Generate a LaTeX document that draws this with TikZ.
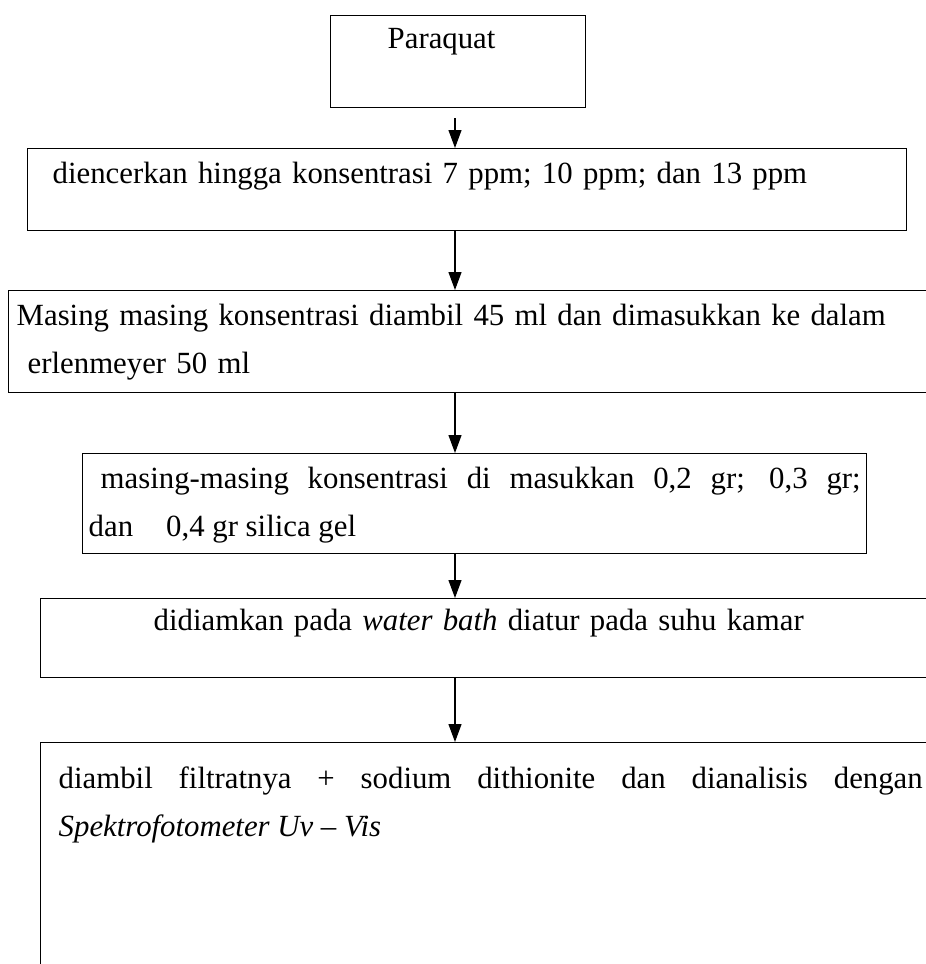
\documentclass[tikz,border=0pt]{standalone}
\usepackage{fontspec}
\setmainfont{Liberation Serif}
\usepackage{tikz}
\usetikzlibrary{arrows.meta,positioning,calc}
\tolerance=10000
\hbadness=10000

\begin{document}
\begin{tikzpicture}[
    x=1pt, y=1pt,
    stepbox/.style={rectangle, draw=black, line width=1.4pt, anchor=north west, inner ysep=0pt, align=left, font=\fontsize{30.8pt}{48pt}\selectfont},
    arrow/.style={-{Triangle[length=18pt, width=13pt]}, line width=1.2pt}
]
    \path[use as bounding box, clip] (0,0) rectangle (926,-964);
    \coordinate (col) at (455,0);

    \node[stepbox, text width=141pt, inner xsep=57pt, text height=33pt, text depth=59pt] (para) at (330,-15) {Paraquat};
    \node[stepbox, text width=829pt, inner xsep=25pt, text height=35pt, text depth=47pt] (encer) at (27,-148) {diencerkan hingga konsentrasi 7 ppm; 10 ppm; dan 13 ppm};
    \node[stepbox, text width=924pt, inner xsep=8pt, text height=35pt, text depth=67pt] (ambil) at (8,-290) {\makebox[874pt][s]{Masing masing konsentrasi diambil 45 ml dan dimasukkan ke dalam}\\ \hspace*{11pt}erlenmeyer 50 ml};
    \node[stepbox, align=justify, text width=772pt, inner xsep=6pt, text height=35pt, text depth=65pt] (silika) at (82,-453) {\hspace*{12pt}masing-masing konsentrasi di masukkan 0,2 gr; 0,3 gr;\linebreak dan\hspace{33pt}0,4 gr silica gel};
    \node[stepbox, text width=700pt, inner xsep=113pt, text height=32pt, text depth=47pt] (diam) at (40,-598) {didiamkan pada \textit{water bath} diatur pada suhu kamar};
    \node[stepbox, align=justify, text width=864pt, inner xsep=18pt, text height=46pt, text depth=250pt] (analisis) at (40,-742) {diambil filtratnya + sodium dithionite dan dianalisis dengan\linebreak \textit{Spektrofotometer Uv – Vis}};

    \draw[arrow] ($(col |- para.south)+(0,-10)$) -- (col |- encer.north);
    \draw[arrow] (col |- encer.south) -- (col |- ambil.north);
    \draw[arrow] (col |- ambil.south) -- (col |- silika.north);
    \draw[arrow] (col |- silika.south) -- (col |- diam.north);
    \draw[arrow] (col |- diam.south) -- (col |- analisis.north);
\end{tikzpicture}
\end{document}
